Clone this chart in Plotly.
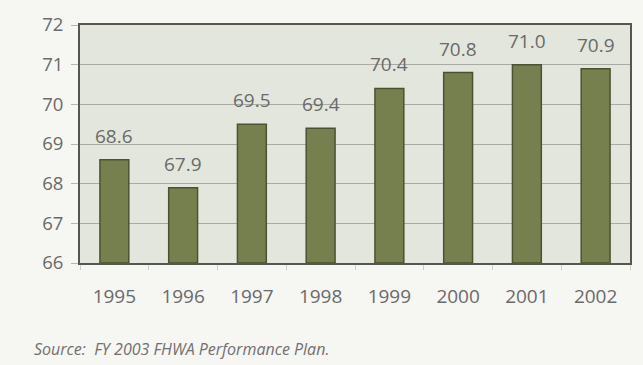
import plotly.graph_objects as go

years = ["1995", "1996", "1997", "1998", "1999", "2000", "2001", "2002"]
values = [68.6, 67.9, 69.5, 69.4, 70.4, 70.8, 71.0, 70.9]
value_labels = ["68.6", "67.9", "69.5", "69.4", "70.4", "70.8", "71.0", "70.9"]
y_ticks = [66, 67, 68, 69, 70, 71, 72]
y_floor = 66

text_gray = "#6a6a6a"
font_family = "'Open Sans', Lato, sans-serif"

fig = go.Figure(
    go.Bar(
        x=years,
        y=[v - y_floor for v in values],
        base=y_floor,
        marker=dict(color="#76804f", line=dict(color="#4b5232", width=1.5)),
    )
)

# value labels sitting a little above each bar (x given as category index)
for i, (v, lab) in enumerate(zip(values, value_labels)):
    fig.add_annotation(
        x=i,
        y=v,
        text=lab,
        showarrow=False,
        yanchor="bottom",
        yshift=9,
        font=dict(size=19, color=text_gray, family=font_family),
    )

fig.update_layout(
    width=643,
    height=365,
    margin=dict(l=80, r=11, t=24, b=102),
    paper_bgcolor="#f6f6f3",
    plot_bgcolor="#e3e6dc",
    bargap=0.58,
    showlegend=False,
    font=dict(family=font_family, color=text_gray),
)
fig.update_yaxes(
    range=[66, 72],
    tickvals=y_ticks,
    ticktext=[str(t) for t in y_ticks],
    tickfont=dict(size=18.5, color=text_gray),
    showgrid=True,
    gridcolor="#a9aaa4",
    gridwidth=1,
    ticks="outside",
    ticklen=7,
    tickcolor="#b5b6b0",
    ticklabelstandoff=4,
    showline=True,
    linecolor="#55574f",
    linewidth=2,
    mirror=True,
    zeroline=False,
)
fig.update_xaxes(
    type="category",
    range=[-0.5, len(years) - 0.5],
    tickangle=0,
    tickfont=dict(size=19, color=text_gray),
    showline=True,
    linecolor="#55574f",
    linewidth=2,
    mirror=True,
    ticks="outside",
    tickson="boundaries",
    ticklen=5,
    tickcolor="#cfcfcb",
    ticklabelstandoff=15,
)
fig.add_annotation(
    text="<i>Source:  FY 2003 FHWA Performance Plan.</i>",
    xref="paper",
    yref="paper",
    x=-0.087,
    y=-0.36,
    xanchor="left",
    yanchor="middle",
    showarrow=False,
    font=dict(size=16, color="#707070", family=font_family),
)

fig.write_html("out.html")
